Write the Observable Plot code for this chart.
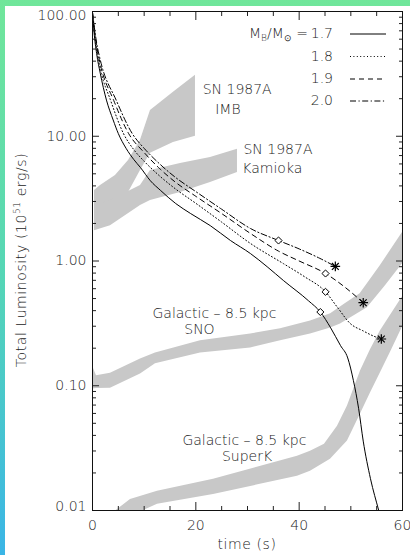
<!DOCTYPE html>
<html><head><meta charset="utf-8">
<script src="https://cdn.jsdelivr.net/npm/d3@7"></script>
<script src="https://cdn.jsdelivr.net/npm/@observablehq/plot@0.6"></script>
<style>
html,body{margin:0;padding:0;}
body{width:410px;height:555px;overflow:hidden;position:relative;background:linear-gradient(to bottom,#70e69a 0%,#55d6b6 50%,#3ab5e6 100%);}
#paper{position:absolute;left:5px;top:6px;width:405px;height:549px;background:#fff;}
#chart{position:absolute;left:0;top:0;}
</style></head><body>
<div id="paper"></div><div id="chart"></div>
<script>
// ---- model curves (time s, luminosity 1e51 erg/s) ----
const seriesNames = ["1.7", "1.8", "1.9", "2.0"];
const t17 = [0,0.3,0.8,1.5,2.7,4,5,6.5,8,9.3,11.2,13.2,16.1,19,22.8,26.7,30.6,33.8,37,41.8,44.1,46.1,48,49.4,50.5,51.5,52.4,53.8,55.4,56.2];
const L17 = [98,68,46,32,19.5,13.5,10.5,8.0,6.5,5.6,4.4,3.67,2.89,2.4,1.92,1.46,1.145,0.9,0.695,0.48,0.39,0.291,0.21,0.167,0.11,0.066,0.036,0.018,0.01,0.0075];
const t18 = [0,0.3,0.8,1.5,3.5,6,8,10,13,16,20,25,30.6,37,41,45.1,47.5,49.9,52.4,54.4,55.9];
const L18 = [98,72,50,35,19.4,10.5,7.8,6.3,4.8,3.8,2.9,2.05,1.38,0.95,0.75,0.566,0.42,0.315,0.275,0.25,0.237];
const t19 = [0,0.3,0.8,1.5,4.1,7,10,13,16,20,25,30.6,36,40,45.1,49,52.4];
const L19 = [98,75,53,38,19.4,10.5,7.4,5.5,4.3,3.3,2.4,1.66,1.2,1.0,0.794,0.61,0.463];
const t20 = [0,0.3,0.8,1.5,4.6,7.7,10,13,16,20,25,30.6,36,40,44,47];
const L20 = [98,78,56,41,19.4,10.5,8.0,6.0,4.7,3.6,2.6,1.82,1.46,1.25,1.05,0.905];

// diamonds and asterisks on the curves
const diamondT = [44.1, 45.1, 45.1, 36.0];
const diamondL = [0.39, 0.566, 0.794, 1.46];
const starT = [55.9, 52.4, 47.0];
const starL = [0.237, 0.463, 0.905];

// ---- detector bands: lower edge (t, L) and upper edge (t, L) ----
const imbTLo = [0.39,1.55,4.45,6.97,9.29,11.22,15.67,19.93];
const imbLo  = [2.03,2.19,2.79,3.54,5.32,7.3,8.93,9.98];
const imbTHi = [0.39,1.55,4.45,6.97,9.29,11.22,15.67,19.93];
const imbHi  = [3.67,4.03,4.85,6.4,9.27,16.1,22.5,30.9];

const kamTLo = [0.39,3.48,9.29,11.22,17.03,22.84,28.06];
const kamLo  = [1.75,1.92,2.79,3.06,3.54,4.26,5.13];
const kamTHi = [0.39,3.48,9.29,11.22,17.03,22.84,28.06];
const kamHi  = [2.79,3.06,4.03,5.32,6.06,6.76,7.85];

const snoTLo = [0,0.77,3.48,9.29,12.19,20.9,30.6,36.4,42.2,46.1,48.0,53.2,56.7,60];
const snoLo  = [0.094,0.095,0.0957,0.124,0.15,0.183,0.201,0.229,0.26,0.291,0.313,0.422,0.632,0.95];
const snoTHi = [0,0.77,3.48,9.29,12.19,20.9,30.6,36.4,42.2,46.1,48.9,51.8,55.7,60];
const snoHi  = [0.144,0.120,0.126,0.164,0.183,0.229,0.26,0.286,0.331,0.377,0.454,0.546,0.916,1.69];

const skTLo = [3.87,7.35,12.58,23.42,39.67,42.19,46.06,49.35,51.87,53.8,55.71,57.7,60];
const skLo  = [0.00787,0.00897,0.0112,0.01346,0.0188,0.0206,0.0258,0.036,0.0593,0.0873,0.1265,0.1866,0.296];
const skTHi = [3.87,7.35,12.58,23.42,39.67,42.19,44.9,47.42,49.35,51.87,53.8,55.71,60];
const skHi  = [0.00948,0.01227,0.01425,0.01778,0.0272,0.0299,0.034,0.0474,0.0687,0.131,0.194,0.275,0.516];

// ---- annotations ----
const noteText = ["SN 1987A","IMB","SN 1987A","Kamioka","Galactic – 8.5 kpc","SNO","Galactic – 8.5 kpc","SuperK"];
const noteT = [28.0, 26.2, 35.9, 34.8, 23.6, 20.7, 29.4, 29.9];
const noteL = [23.8, 16.5, 7.85, 5.52, 0.377, 0.281, 0.0366, 0.0272];

// ---- ticks ----
const yMajor = [0.01, 0.1, 1, 10, 100];
const yMinor = [0.01, 0.1, 1, 10].flatMap(d => [2,3,4,5,6,7,8,9].map(k => d * k));
const xMajor = [0, 20, 40, 60];
const xMinor = [5, 10, 15, 25, 30, 35, 45, 50, 55];

const curveT = [t17, t18, t19, t20];
const curveL = [L17, L18, L19, L20];
const dashes = [null, "1,2.4", "5,4", "6,2.5,1.2,2.5"];

const toRows = (ts, ls) => ts.map((t, i) => ({t, L: ls[i]}));
const band = (tl, lo, th, hi) => lo.map((v, i) => ({tl: tl[i], lo: v, th: th[i], hi: hi[i]}));
const bands = [band(imbTLo, imbLo, imbTHi, imbHi), band(kamTLo, kamLo, kamTHi, kamHi),
               band(snoTLo, snoLo, snoTHi, snoHi), band(skTLo, skLo, skTHi, skHi)];
const diamonds = diamondT.map((t, i) => ({t, L: diamondL[i]}));
const stars = starT.map((t, i) => ({t, L: starL[i]}));
const notes = noteText.map((s, i) => ({s, t: noteT[i], L: noteL[i]}));
const fmt = d3.format(".2f");
const blank = () => "";

const plot = Plot.plot({
  width: 410, height: 555,
  marginLeft: 92, marginRight: 8, marginTop: 11, marginBottom: 45,
  x: {domain: [0, 60]},
  y: {type: "log", domain: [0.01, 100]},
  style: {background: "transparent", fontFamily: "DejaVu Sans", fontSize: "14px", fontWeight: 200, color: "#222", overflow: "visible"},
  marks: [
    ...bands.map(b => Plot.area(b, {x1: "tl", y1: "lo", x2: "th", y2: "hi", fill: "#c8c8c8", clip: true})),
    ...curveT.map((ts, i) => Plot.line(toRows(ts, curveL[i]), {x: "t", y: "L", stroke: "#000", strokeWidth: 1,
        strokeDasharray: dashes[i], curve: "monotone-x", clip: true})),
    Plot.dot(diamonds, {x: "t", y: "L", symbol: "diamond2", r: 3.2, fill: "#fff", stroke: "#000", strokeWidth: 1}),
    Plot.dot(stars, {x: "t", y: "L", symbol: "plus", r: 3.2, stroke: "#000", strokeWidth: 1.2}),
    Plot.dot(stars, {x: "t", y: "L", symbol: "times", r: 3.2, stroke: "#000", strokeWidth: 1.2}),
    Plot.text(notes, {x: "t", y: "L", text: "s", fill: "#222", fontSize: 14, letterSpacing: "0.4px"}),
    Plot.axisY(yMinor, {anchor: "left", tickSize: -4, tickFormat: blank, label: null}),
    Plot.axisY(yMajor, {anchor: "left", tickSize: -7, tickFormat: blank, label: null}),
    Plot.axisY(yMinor, {anchor: "right", tickSize: -4, tickFormat: blank, label: null}),
    Plot.axisY(yMajor, {anchor: "right", tickSize: -7, tickFormat: blank, label: null}),
    Plot.axisX(xMinor, {anchor: "bottom", tickSize: -4, tickFormat: blank, label: null}),
    Plot.axisX(xMajor, {anchor: "bottom", tickSize: -8, tickPadding: 18, label: null}),
    Plot.axisX(xMinor, {anchor: "top", tickSize: -4, tickFormat: blank, label: null}),
    Plot.axisX(xMajor, {anchor: "top", tickSize: -8, tickFormat: blank, label: null}),
    Plot.text(yMajor.slice(1, 4), {y: d => d, text: d => fmt(d), frameAnchor: "left", textAnchor: "end", dx: -6}),
    Plot.text([yMajor[4]], {y: d => d, text: d => fmt(d), frameAnchor: "left", textAnchor: "end", dx: -6, dy: 4.5}),
    Plot.text([yMajor[0]], {y: d => d, text: d => fmt(d), frameAnchor: "left", textAnchor: "end", dx: -6, dy: -3.5}),
    Plot.frame({stroke: "#111"})
  ]
});
document.getElementById("chart").appendChild(plot);

// ---- axis titles and legend (text with sub/superscripts) ----
const svg = d3.select(plot);
const g = svg.append("g").attr("font-family", "DejaVu Sans").attr("font-weight", 200)
  .attr("font-size", 14).attr("fill", "#222");

const yl = g.append("text").attr("transform", "translate(26,260) rotate(-90)")
  .attr("text-anchor", "middle").attr("letter-spacing", "0.6px");
yl.append("tspan").text("Total Luminosity (10");
yl.append("tspan").attr("font-size", 9).attr("dy", -6).text("51");
yl.append("tspan").attr("dy", 6).text(" erg/s)");

g.append("text").attr("x", 247).attr("y", 549).attr("text-anchor", "middle")
  .attr("letter-spacing", "0.6px").text("time (s)");

const rowY = [33, 55.5, 78, 100];
const lt = g.append("text").attr("x", 308).attr("y", rowY[0] + 5).attr("text-anchor", "end");
lt.append("tspan").text("M");
lt.append("tspan").attr("font-size", 9).attr("dy", 3).text("B");
lt.append("tspan").attr("dy", -3).text("/M");
lt.append("tspan").attr("font-size", 9).attr("dy", 3).text("⊙");
lt.append("tspan").attr("dy", -3).text(" =");
seriesNames.forEach((s, i) => {
  g.append("text").attr("x", 333).attr("y", rowY[i] + 5).attr("text-anchor", "end").text(s);
  g.append("line").attr("x1", 350).attr("x2", 386).attr("y1", rowY[i] + 1).attr("y2", rowY[i] + 1)
    .attr("stroke", "#000").attr("stroke-width", 1).attr("stroke-dasharray", dashes[i]);
});
</script>
</body></html>
